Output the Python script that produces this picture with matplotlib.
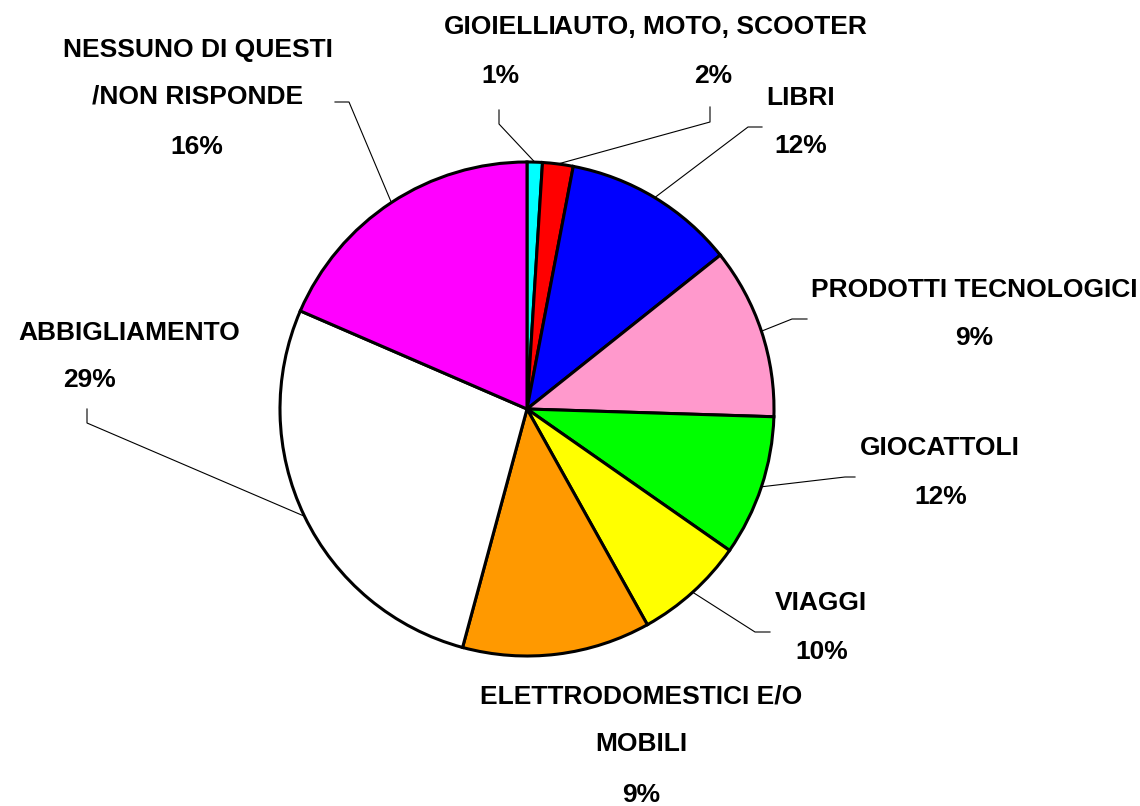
import matplotlib
matplotlib.use("Agg")
import matplotlib.pyplot as plt
import numpy as np

# Dati del grafico (quote degli spicchi, etichette come nel grafico)
categorie = ["GIOIELLI", "AUTO, MOTO, SCOOTER", "LIBRI", "PRODOTTI TECNOLOGICI",
             "GIOCATTOLI", "VIAGGI", "ELETTRODOMESTICI E/O\nMOBILI",
             "ABBIGLIAMENTO", "NESSUNO DI QUESTI\n/NON RISPONDE"]
quote_spicchi = [1.0, 2.0, 11.3, 11.2, 9.2, 7.2, 12.3, 27.3, 18.5]
etichette_pct = ["1%", "2%", "12%", "9%", "12%", "10%", "9%", "29%", "16%"]
colori = ["#00FFFF", "#FF0000", "#0000FF", "#FF99CC", "#00FF00",
          "#FFFF00", "#FF9900", "#FFFFFF", "#FF00FF"]

W, H = 1140, 806
famiglia = ["Liberation Sans", "DejaVu Sans"]

fig = plt.figure(figsize=(W / 100, H / 100), dpi=100)
ax = fig.add_axes([0, 0, 1, 1])

# Torta: centro e raggio in pixel
cx, cy, r = 527, H - 409, 247
wedges, _ = ax.pie(quote_spicchi, colors=colori, startangle=90, counterclock=False,
                   center=(cx, cy), radius=r, frame=True,
                   wedgeprops=dict(edgecolor="black", linewidth=2.2))
ax.set_xlim(0, W)
ax.set_ylim(0, H)
ax.set_aspect("equal")
ax.axis("off")

# Posizioni dei testi (pixel, dall'alto) e spezzate dei richiami
pos_testo = [(500, 27), (710, 27), (801, 98), (974, 290), (940, 448),
             (821, 603), (641, 697), (129, 333), (198, 50)]
pos_pct = [(500, 76), (713, 76), (801, 146), (974, 338), (941, 497),
           (822, 652), (641, 795), (89, 380), (197, 147)]
richiami = [[(499, 124), (499, 110)], [(710, 122), (710, 107)],
            [(748, 127), (762, 127)], [(792, 319), (807, 319)],
            [(845, 477), (855, 477)], [(755, 632), (770, 632)],
            None, [(87, 423), (87, 409)], [(349, 102), (335, 102)]]

for w, cat, pct, pt, pp, rich in zip(wedges, categorie, etichette_pct,
                                     pos_testo, pos_pct, richiami):
    ang = np.deg2rad((w.theta1 + w.theta2) / 2)
    if rich is not None:
        xs = [cx + r * np.cos(ang)] + [p[0] for p in rich]
        ys = [cy + r * np.sin(ang)] + [H - p[1] for p in rich]
        ax.plot(xs, ys, color="black", linewidth=0.8, zorder=0.5)
    for i, riga in enumerate(cat.split("\n")):
        ax.text(pt[0], H - pt[1] - i * 47, riga, ha="center", va="center",
                fontsize=19, fontweight="bold", family=famiglia)
    ax.text(pp[0], H - pp[1], pct, ha="center", va="center",
            fontsize=19, fontweight="bold", family=famiglia)

fig.savefig("out.png", dpi=100, facecolor="white")
